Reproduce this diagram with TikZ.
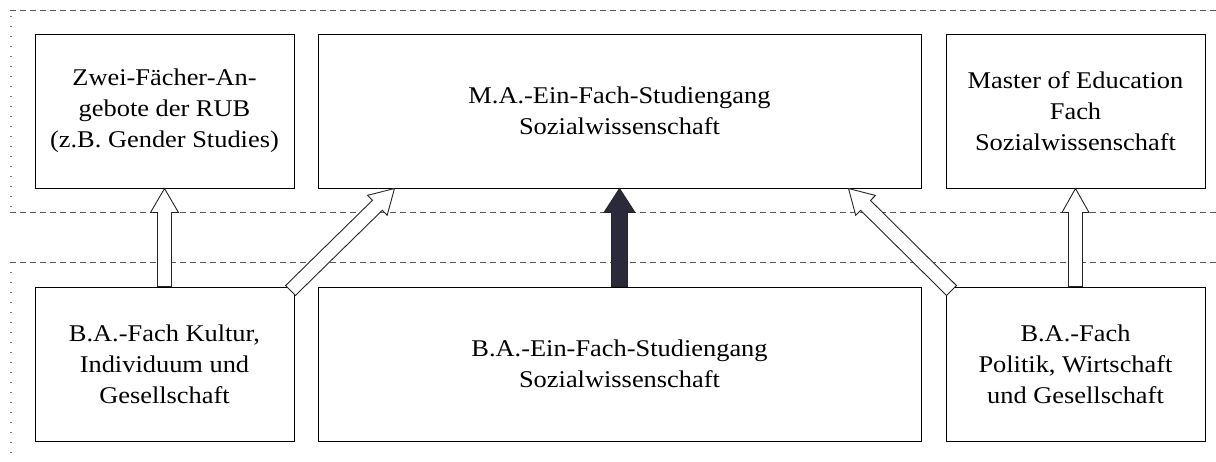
\documentclass[tikz,border=0pt]{standalone}
\usepackage{fontspec}
\setmainfont{Liberation Serif}[FakeStretch=1.1]
\usetikzlibrary{calc}
\newcommand{\blockarrow}[5]{%
  \coordinate (bah) at ($(#3)!24pt!(#2)$);
  \filldraw[arrowbody, fill=#1] ($(#2)!#4!90:(#3)$) -- ($(bah)!#4!90:(#3)$) -- ($(bah)!#5!90:(#3)$) -- (#3) -- ($(bah)!#5!-90:(#3)$) -- ($(bah)!#4!-90:(#3)$) -- ($(#2)!#4!-90:(#3)$) -- cycle;
}
\definecolor{darkfill}{RGB}{42,42,58}
\begin{document}
\begin{tikzpicture}[x=1pt,y=-1pt,
  box/.style={draw=black, line width=1pt, minimum width=#1, minimum height=154pt, align=center, inner sep=0pt,
    font=\fontsize{24}{31}\selectfont},
  arrowbody/.style={draw=black!85, line width=0.9pt, line join=miter},
  sepline/.style={draw=black!65, line width=0.8pt, dash pattern=on 6pt off 4pt},
  dotline/.style={draw=black!55, line width=1.4pt, dash pattern=on 1.4pt off 8.6pt}]
\useasboundingbox (0,0) rectangle (1216,461);
% region frames
\draw[sepline] (10,10) -- (1216,10);
\draw[sepline] (10,212) -- (1216,212);
\draw[sepline] (10,262) -- (1216,262);
\draw[dotline] (11,16) -- (11,208);
\draw[dotline] (11,272) -- (11,461);
% boxes
\node[box=259pt] (tl) at (164.5,111) {Zwei-Fächer-An-\\gebote der RUB\\(z.B. Gender Studies)};
\node[box=603pt] (tm) at (619.5,111) {M.A.-Ein-Fach-Studiengang\\Sozialwissenschaft};
\node[box=259pt] (tr) at (1075.5,111) {Master of Education\\Fach\\Sozialwissenschaft};
\node[box=259pt] (bl) at (164.5,364) {B.A.-Fach Kultur,\\Individuum und\\Gesellschaft};
\node[box=603pt] (bm) at (619.5,364) {B.A.-Ein-Fach-Studiengang\\Sozialwissenschaft};
\node[box=259pt] (br) at (1075.5,364) {B.A.-Fach\\Politik, Wirtschaft\\und Gesellschaft};
% arrow endpoints
\coordinate (a1t) at (bl.north);
\coordinate (a1h) at (tl.south);
\coordinate (a2t) at ($(bl.north east)+(-4,4)$);
\coordinate (a2h) at ($(tm.south west)+(77,0)$);
\coordinate (a3t) at (bm.north);
\coordinate (a3h) at (tm.south);
\coordinate (a4t) at ($(br.north west)+(6,4)$);
\coordinate (a4h) at ($(tm.south east)+(-73,0)$);
\coordinate (a5t) at (br.north);
\coordinate (a5h) at (tr.south);
% arrows
\blockarrow{white}{a1t}{a1h}{7pt}{14pt}
\blockarrow{white}{a2t}{a2h}{7pt}{14pt}
\blockarrow{darkfill}{a3t}{a3h}{8pt}{15.5pt}
\blockarrow{white}{a4t}{a4h}{7pt}{14pt}
\blockarrow{white}{a5t}{a5h}{7pt}{13.5pt}
\end{tikzpicture}
\end{document}
